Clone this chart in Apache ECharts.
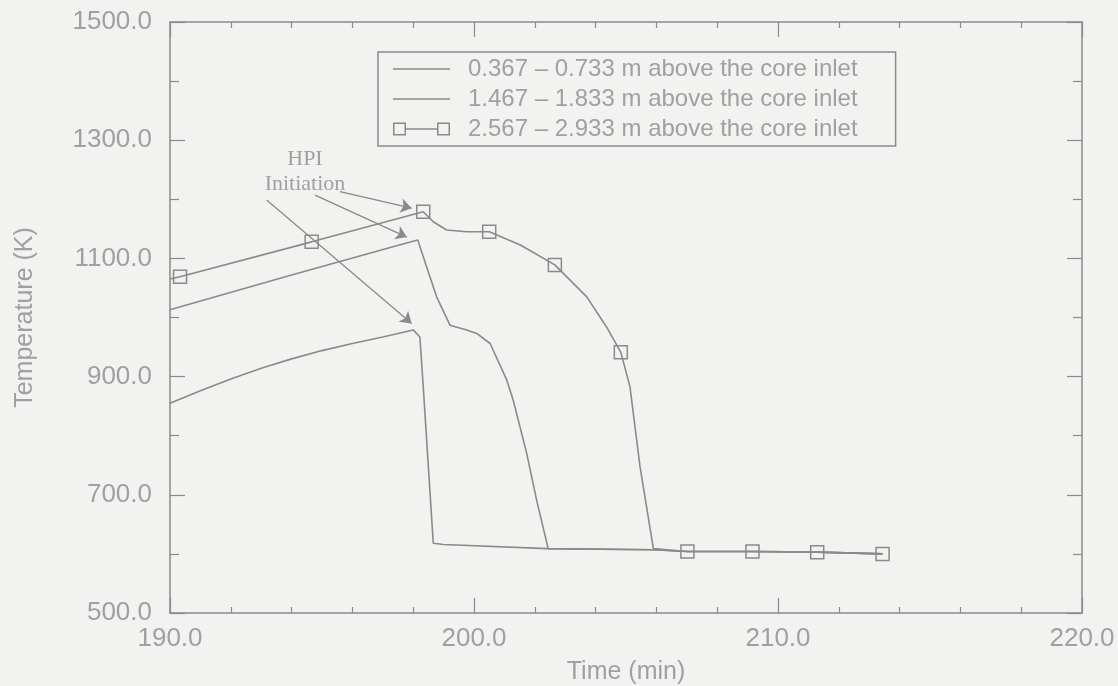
<!DOCTYPE html>
<html>
<head>
<meta charset="utf-8">
<script src="https://cdn.jsdelivr.net/npm/echarts@6/dist/echarts.min.js"></script>
<style>
  html, body { margin: 0; padding: 0; background: #f2f2f0; }
  #chart { width: 1118px; height: 686px; }
</style>
</head>
<body>
<div id="chart"></div>
<script>
// ---- data ----
const seriesNames = [
  '0.367 \u2013 0.733 m above the core inlet',
  '1.467 \u2013 1.833 m above the core inlet',
  '2.567 \u2013 2.933 m above the core inlet'
];
const time1 = [190.0, 191.0, 192.0, 193.0, 194.0, 195.0, 196.0, 197.0, 198.0, 198.22, 198.33, 198.66, 199.0, 202.4, 205.9, 207.02, 209.16, 211.29, 213.44];
const temp1 = [855, 876, 896, 914, 930, 944, 956, 967, 979, 967, 883, 618, 616, 609, 607, 604, 604, 603, 600];

const time2 = [190.0, 194.0, 197.57, 198.15, 198.44, 198.77, 199.21, 199.76, 200.09, 200.53, 201.08, 201.29, 201.73, 202.06, 202.44, 205.9, 207.02, 209.16, 211.29, 213.44];
const temp2 = [1013, 1072, 1123, 1131, 1086, 1035, 987, 979, 973, 956, 894, 860, 771, 691, 609, 607, 604, 604, 603, 600];

const time3 = [190.0, 190.33, 194.66, 198.33, 198.66, 199.10, 199.76, 200.50, 201.51, 202.66, 203.71, 204.36, 204.83, 205.13, 205.46, 205.90, 207.02, 209.16, 211.29, 213.44];
const temp3 = [1065, 1069, 1128, 1179, 1162, 1148, 1145, 1145, 1123, 1089, 1035, 984, 941, 883, 748, 609, 604, 604, 603, 600];
const mark3 = [0, 1, 1, 1, 0, 0, 0, 1, 0, 1, 0, 0, 1, 0, 0, 0, 1, 1, 1, 1];

// annotation: "HPI Initiation" arrows (start -> end, data coords)
const arrowStart = [[193.18, 1199], [194.77, 1207], [195.59, 1213]];
const arrowEnd   = [[197.95, 990], [197.79, 1136], [197.95, 1185]];
const annotText = 'HPI\nInitiation';
const annotPos = [194.44, 1247];

const xMin = 190, xMax = 220, xStep = 10;
const yMin = 500, yMax = 1500, yStep = 200;

// ---- chart ----
const INK = '#8a8a8a';
const TXT = '#a0a0a0';
const FONT = '"Liberation Sans", Arial, sans-serif';

function pairs(xs, ys) { return xs.map((x, i) => [x, ys[i]]); }
const data3 = time3.map((x, i) => ({ value: [x, temp3[i]], symbol: mark3[i] ? 'rect' : 'none' }));

const chart = echarts.init(document.getElementById('chart'), null, { renderer: 'canvas' });

const lineIcon = 'path://M0,0H57V1.5H0Z';
const rectIcon = 'path://M0,0H13V13H0ZM1.5,1.5V11.5H11.5V1.5ZM44,0H57V13H44ZM45.5,1.5V11.5H55.5V1.5ZM13,5.75H44V7.25H13Z';

function axisCommon(isX, showLabel) {
  return {
    type: 'value',
    min: isX ? xMin : yMin,
    max: isX ? xMax : yMax,
    interval: isX ? xStep : yStep,
    axisLine: { show: true, onZero: false, lineStyle: { color: INK, width: 1.5 } },
    axisTick: { show: true, inside: true, length: 15, lineStyle: { color: INK, width: 1.2 } },
    minorTick: { show: true, splitNumber: isX ? 5 : 2, length: isX ? 6 : 9, lineStyle: { color: INK, width: 1.2 } },
    splitLine: { show: false },
    minorSplitLine: { show: false },
    axisLabel: {
      show: showLabel,
      color: TXT,
      fontFamily: FONT,
      fontSize: 26,
      margin: isX ? 13 : 18,
      formatter: v => v.toFixed(1)
    }
  };
}

const option = {
  animation: false,
  backgroundColor: '#f2f2f0',
  grid: { left: 170, right: 36, top: 22, bottom: 73, containLabel: false, outerBoundsMode: 'none' },
  legend: {
    orient: 'vertical',
    left: 378,
    top: 52,
    padding: [5, 38, 5, 15],
    borderColor: INK,
    borderWidth: 1.5,
    itemWidth: 57,
    itemHeight: 13,
    itemGap: 6,
    textStyle: { color: TXT, fontFamily: FONT, fontSize: 24, lineHeight: 24, padding: [0, 0, 0, 13] },
    data: [
      { name: seriesNames[0], icon: lineIcon, itemStyle: { color: INK, borderWidth: 0 } },
      { name: seriesNames[1], icon: lineIcon, itemStyle: { color: INK, borderWidth: 0 } },
      { name: seriesNames[2], icon: rectIcon, itemStyle: { color: INK, borderWidth: 0 } }
    ]
  },
  xAxis: [
    Object.assign(axisCommon(true, true), {
      position: 'bottom',
      name: 'Time (min)',
      nameLocation: 'middle',
      nameGap: 47,
      nameTextStyle: { color: TXT, fontFamily: FONT, fontSize: 25 }
    }),
    Object.assign(axisCommon(true, false), { position: 'top' })
  ],
  yAxis: [
    Object.assign(axisCommon(false, true), {
      position: 'left',
      name: 'Temperature (K)',
      nameLocation: 'middle',
      nameGap: 132,
      nameRotate: 90,
      nameTextStyle: { color: TXT, fontFamily: FONT, fontSize: 25 }
    }),
    Object.assign(axisCommon(false, false), { position: 'right' })
  ],
  series: [
    {
      name: seriesNames[0],
      type: 'line',
      data: pairs(time1, temp1),
      symbol: 'none',
      lineStyle: { color: INK, width: 1.6 },
      itemStyle: { color: INK },
      markLine: {
        silent: true,
        symbol: ['none', 'arrow'],
        symbolSize: 11,
        label: { show: false },
        lineStyle: { color: INK, width: 1.3, type: 'solid' },
        data: arrowStart.map((s, i) => [{ coord: s }, { coord: arrowEnd[i] }])
      },
      markPoint: {
        silent: true,
        symbol: 'circle',
        symbolSize: 0,
        data: [{
          coord: annotPos,
          label: {
            show: true,
            position: 'inside',
            formatter: annotText,
            color: TXT,
            fontFamily: '"Liberation Serif", "DejaVu Serif", serif',
            fontSize: 22,
            lineHeight: 25,
            align: 'center'
          }
        }]
      }
    },
    {
      name: seriesNames[1],
      type: 'line',
      data: pairs(time2, temp2),
      symbol: 'none',
      lineStyle: { color: INK, width: 1.6 },
      itemStyle: { color: INK }
    },
    {
      name: seriesNames[2],
      type: 'line',
      data: data3,
      symbol: 'rect',
      symbolSize: 13,
      showSymbol: true,
      showAllSymbol: true,
      lineStyle: { color: INK, width: 1.6 },
      itemStyle: { color: 'rgba(0,0,0,0)', borderColor: INK, borderWidth: 1.5 }
    }
  ]
};
chart.setOption(option);
</script>
</body>
</html>
